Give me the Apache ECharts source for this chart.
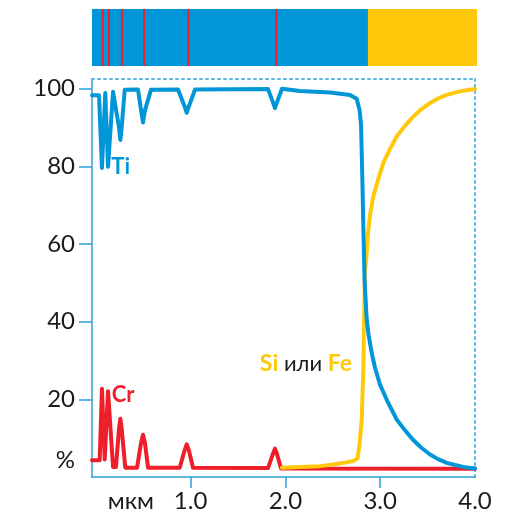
<!DOCTYPE html>
<html><head><meta charset="utf-8">
<script src="https://cdn.jsdelivr.net/npm/echarts@6/dist/echarts.min.js"></script>
<style>html,body{margin:0;padding:0;background:#fff}#c{width:506px;height:513px}</style>
</head><body><div id="c"></div>
<script>
// Ti (blue)
const tiX = [-0.04,0.034,0.065,0.100,0.129,0.182,0.245,0.259,0.273,0.305,0.445,0.477,0.498,0.519,0.582,0.867,0.936,0.959,0.983,1.047,1.817,1.872,1.890,1.908,1.964,2.154,2.471,2.682,2.752,2.782,2.798,2.812,2.823,2.835,2.846,2.858,2.877,2.910,2.945,2.998,3.082,3.174,3.262,3.346,3.431,3.526,3.610,3.702,3.789,3.877,4.000];
const tiY = [98.3,98.3,79.6,98.9,79.9,99.2,90.0,86.8,90.0,99.7,99.8,94.5,91.3,94.5,99.7,99.8,95.5,93.8,95.5,99.8,99.9,96.3,95.0,96.3,100,99.4,99.0,98.4,97.4,94.5,90.7,76.5,63.7,50.8,45.7,40.5,36.7,32.0,28.2,23.8,19.2,14.8,12.0,9.6,7.6,5.8,4.6,3.65,3.1,2.6,2.2];
// Si or Fe (yellow)
const sifeX = [1.964,2.154,2.365,2.502,2.629,2.724,2.761,2.782,2.805,2.822,2.833,2.840,2.850,2.875,2.898,2.927,2.977,3.033,3.104,3.174,3.262,3.349,3.431,3.526,3.610,3.702,3.789,3.877,4.000];
const sifeY = [2.4,2.6,2.8,3.2,3.7,4.2,4.8,8.4,14.8,27.7,44.9,53.4,55.4,63.7,68.3,72.2,76.5,80.9,84.5,87.7,90.5,92.8,94.7,96.3,97.5,98.4,99.0,99.5,99.9];
// Cr (red)
const crX = [-0.04,0.041,0.065,0.094,0.129,0.182,0.213,0.245,0.259,0.273,0.311,0.435,0.477,0.498,0.519,0.551,0.885,0.936,0.959,0.983,1.025,1.817,1.872,1.890,1.908,1.954,4.000];
const crY = [4.3,4.3,22.7,4.5,22.1,2.6,2.6,12.5,15.0,12.5,2.4,2.4,8.7,10.9,8.7,2.4,2.4,6.8,8.4,6.8,2.4,2.3,6.2,7.3,6.2,2.2,2.1];
// top band: segments [start, end, kind] (0 = Ti layer, 1 = Si/Fe)
const bandStart = [-0.04, 2.871];
const bandEnd = [2.871, 4.021];
const bandKind = [0, 1];
// Cr marks in band
const stripeX = [0.073,0.139,0.276,0.509,0.976,1.904];
// axis ticks / labels
const xTicks = [1,2,3];
const xLabels = [0.37,1,2,3,4];
const yTicks = [20,40,60,80,100];
const yLabels = [4.2,20,40,60,80,100];

const zip = (a,b)=>a.map((v,i)=>[v,b[i]]);
const BLUE='#0096d8', YEL='#ffc90b', RED='#ee1f2a', AX='#2a9fd9', DOT='#5ab4e2';
const FONT='Lato';
const chart = echarts.init(document.getElementById('c'), null, {renderer:'canvas'});
const lineS = (name, data, color, z)=>({name, type:'line', data, xAxisIndex:0, yAxisIndex:0, symbol:'none', z,
  lineStyle:{color, width:4, join:'round', cap:'round'}, silent:true});
chart.setOption({
  animation:false,
  grid:[{left:92, top:79, width:383, height:398.5},{left:92, top:9, width:385, height:57}],
  xAxis:[
    {gridIndex:0, type:'value', min:-0.04, max:4.0,
     axisLine:{show:true, onZero:false, lineStyle:{color:AX, width:1.5}},
     axisTick:{show:true, customValues:xTicks, length:11, lineStyle:{color:AX, width:1.5}},
     axisLabel:{customValues:xLabels, formatter:v=> v<0.5 ? 'мкм' : v.toFixed(1), margin:12, fontSize:24, color:'#1a1a1a', fontFamily:FONT},
     splitLine:{show:false}},
    {gridIndex:0, type:'value', position:'top', min:-0.04, max:4.0,
     axisLine:{show:true, onZero:false, lineStyle:{color:DOT, width:2, type:[2,4]}},
     axisTick:{show:false}, axisLabel:{show:false}, splitLine:{show:false}},
    {gridIndex:1, type:'value', min:-0.04, max:4.021, show:false}
  ],
  yAxis:[
    {gridIndex:0, type:'value', min:0, max:102.5,
     axisLine:{show:true, onZero:false, lineStyle:{color:AX, width:1.5}},
     axisTick:{show:true, customValues:yTicks, length:13, lineStyle:{color:AX, width:1.5}},
     axisLabel:{customValues:yLabels, formatter:v=> v<10 ? '%' : String(v), margin:17, fontSize:24, color:'#1a1a1a', fontFamily:FONT},
     splitLine:{show:false}},
    {gridIndex:0, type:'value', position:'right', min:0, max:102.5,
     axisLine:{show:true, onZero:false, lineStyle:{color:DOT, width:2, type:[2,4]}},
     axisTick:{show:false}, axisLabel:{show:false}, splitLine:{show:false}},
    {gridIndex:1, type:'value', min:0, max:1, show:false}
  ],
  series:[
    lineS('Cr', zip(crX,crY), RED, 2),
    lineS('Si/Fe', zip(sifeX,sifeY), YEL, 3),
    lineS('Ti', zip(tiX,tiY), BLUE, 4),
    {type:'custom', xAxisIndex:2, yAxisIndex:2, silent:true, z:1,
     data: bandStart.map((s,i)=>[s, bandEnd[i], bandKind[i]]),
     renderItem:(p,api)=>{
       const a=api.coord([api.value(0),1]), b=api.coord([api.value(1),0]);
       return {type:'rect', shape:{x:a[0], y:a[1], width:b[0]-a[0], height:b[1]-a[1]},
         style:{fill: api.value(2)===0 ? BLUE : YEL}};
     }},
    {type:'custom', xAxisIndex:2, yAxisIndex:2, silent:true, z:2,
     data: stripeX.map(x=>[x]),
     renderItem:(p,api)=>{
       const a=api.coord([api.value(0),1]), b=api.coord([api.value(0),0]);
       return {type:'rect', shape:{x:a[0]-1, y:a[1], width:2, height:b[1]-a[1]}, style:{fill:RED}};
     }}
  ],
  graphic:[
    {type:'text', x:120.7, y:166.5, z:10, style:{text:'Ti', fill:BLUE, fontSize:22, fontWeight:'bold', fontFamily:FONT, textAlign:'center', textVerticalAlign:'middle'}},
    {type:'text', x:123, y:395, z:10, style:{text:'Cr', fill:RED, fontSize:22, fontWeight:'bold', fontFamily:FONT, textAlign:'center', textVerticalAlign:'middle'}},
    {type:'text', x:352, y:364, z:10, style:{text:'{y|Si} или {y|Fe}', fill:'#1a1a1a', fontSize:22, fontFamily:FONT, textAlign:'right', textVerticalAlign:'middle',
      rich:{y:{fill:YEL, fontSize:23, fontWeight:'bold', fontFamily:FONT}}}}
  ]
});
</script></body></html>
